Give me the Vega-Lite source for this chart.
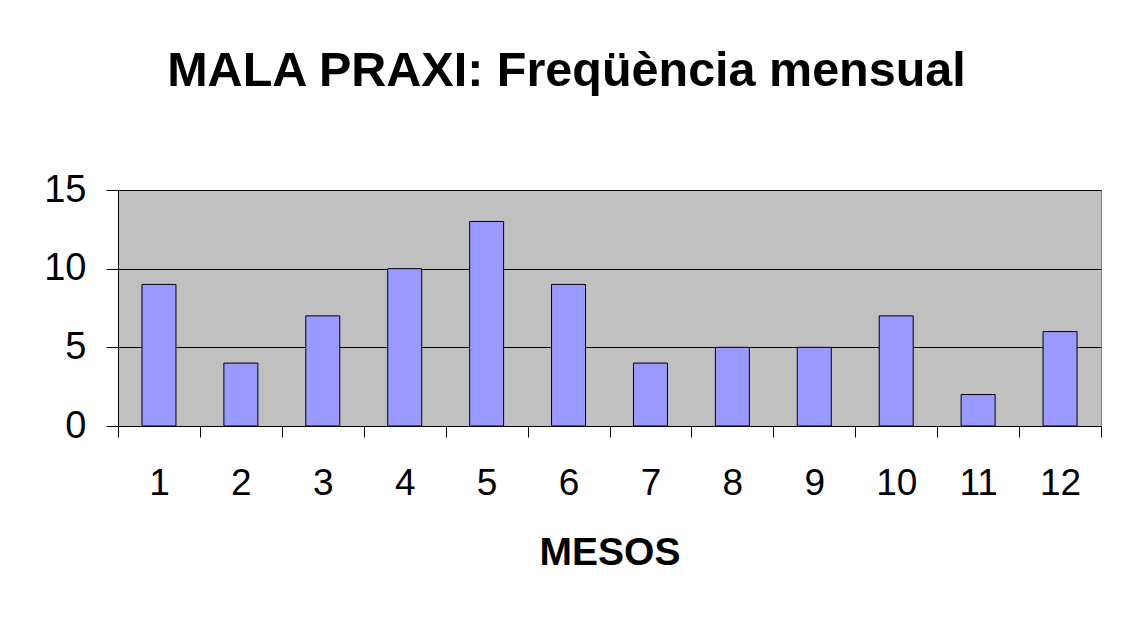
{
  "$schema": "https://vega.github.io/schema/vega-lite/v6.json",
  "width": 983,
  "height": 236,
  "autosize": {"type": "none"},
  "padding": {"left": 118, "top": 190, "right": 27, "bottom": 192},
  "background": "white",
  "title": {
    "text": "MALA PRAXI: Freqüència mensual",
    "font": "Liberation Sans",
    "fontSize": 48.5,
    "fontWeight": "bold",
    "color": "black",
    "anchor": "middle",
    "dx": -43,
    "offset": 75
  },
  "data": {
    "values": [
      {"mes": "1", "n": 9},
      {"mes": "2", "n": 4},
      {"mes": "3", "n": 7},
      {"mes": "4", "n": 10},
      {"mes": "5", "n": 13},
      {"mes": "6", "n": 9},
      {"mes": "7", "n": 4},
      {"mes": "8", "n": 5},
      {"mes": "9", "n": 5},
      {"mes": "10", "n": 7},
      {"mes": "11", "n": 2},
      {"mes": "12", "n": 6}
    ]
  },
  "mark": {"type": "bar", "fill": "#9999FF", "stroke": "black", "strokeWidth": 1, "width": {"band": 0.415}},
  "encoding": {
    "x": {
      "field": "mes",
      "type": "ordinal",
      "sort": null,
      "scale": {"paddingInner": 0, "paddingOuter": 0},
      "axis": {
        "title": "MESOS",
        "titleFont": "Liberation Sans",
        "titleFontSize": 39,
        "titleFontWeight": "bold",
        "titleColor": "black",
        "titlePadding": 32,
        "labelFont": "Liberation Sans",
        "labelFontSize": 37,
        "labelColor": "black",
        "labelAngle": 0,
        "labelPadding": 28,
        "tickBand": "extent",
        "tickSize": 11,
        "tickColor": "black",
        "domainColor": "black",
        "grid": false
      }
    },
    "y": {
      "field": "n",
      "type": "quantitative",
      "scale": {"domain": [0, 15], "nice": false},
      "axis": {
        "title": null,
        "values": [0, 5, 10, 15],
        "labelFont": "Liberation Sans",
        "labelFontSize": 38,
        "labelColor": "black",
        "labelPadding": 20,
        "tickSize": 12,
        "tickColor": "black",
        "domainColor": "black",
        "gridColor": "black",
        "gridOpacity": 1
      }
    }
  },
  "config": {
    "view": {"fill": "#C0C0C0", "stroke": "#808080"}
  }
}
